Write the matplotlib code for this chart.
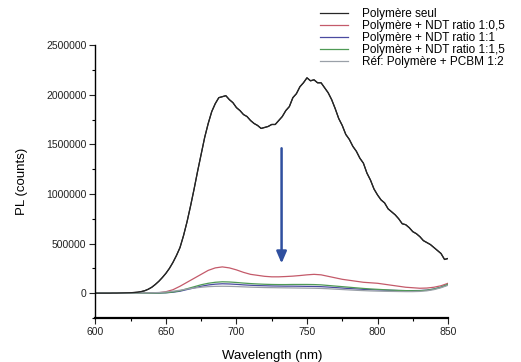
import matplotlib
matplotlib.use("Agg")
import matplotlib.pyplot as plt
from matplotlib.ticker import MultipleLocator

plt.rcParams['font.family'] = ['Liberation Sans', 'DejaVu Sans']

# Wavelength grids (nm)
wavelength_fine = [600 + 2.5 * i for i in range(101)]
wavelength = list(range(600, 851, 5))

# PL intensity in millions of counts
pl_polymere_seul = [
    0.0, 0.0, 0.0, 0.0, 0.0, 0.001, 0.001, 0.002, 0.003, 0.004,
    0.005, 0.007, 0.01, 0.016, 0.025, 0.04, 0.06, 0.088, 0.12, 0.158,
    0.20, 0.25, 0.31, 0.38, 0.46, 0.58, 0.72, 0.88, 1.05, 1.23,
    1.40, 1.57, 1.71, 1.83, 1.91, 1.97, 1.98, 1.99, 1.95, 1.92,
    1.87, 1.84, 1.80, 1.78, 1.74, 1.71, 1.69, 1.66, 1.67, 1.68,
    1.70, 1.70, 1.74, 1.78, 1.84, 1.88, 1.97, 2.01, 2.08, 2.12,
    2.17, 2.14, 2.15, 2.12, 2.12, 2.07, 2.02, 1.95, 1.86, 1.76,
    1.69, 1.60, 1.55, 1.48, 1.43, 1.36, 1.31, 1.21, 1.14, 1.05,
    0.99, 0.94, 0.91, 0.85, 0.82, 0.79, 0.75, 0.70, 0.69, 0.66,
    0.62, 0.60, 0.57, 0.53, 0.51, 0.49, 0.46, 0.43, 0.40, 0.34,
    0.35,
]
pl_ndt_05 = [
    0.0, 0.0, 0.0, 0.0, 0.0, 0.0, 0.0, 0.001, 0.002, 0.005,
    0.015, 0.035, 0.07, 0.11, 0.15, 0.19, 0.23, 0.255, 0.265, 0.255,
    0.235, 0.21, 0.19, 0.18, 0.17, 0.165, 0.165, 0.168, 0.172, 0.178,
    0.185, 0.19, 0.185, 0.17, 0.155, 0.14, 0.13, 0.12, 0.11, 0.105,
    0.10, 0.09, 0.08, 0.07, 0.06, 0.055, 0.05, 0.052, 0.06, 0.075,
    0.10,
]
pl_ndt_1 = [
    0.0, 0.0, 0.0, 0.0, 0.0, 0.0, 0.0, 0.0, 0.001, 0.002,
    0.004, 0.01, 0.02, 0.037, 0.053, 0.07, 0.083, 0.091, 0.095, 0.093,
    0.089, 0.084, 0.08, 0.077, 0.075, 0.073, 0.072, 0.071, 0.071, 0.07,
    0.069, 0.068, 0.066, 0.062, 0.057, 0.052, 0.047, 0.043, 0.039, 0.036,
    0.033, 0.031, 0.029, 0.027, 0.026, 0.026, 0.027, 0.031, 0.042, 0.06,
    0.085,
]
pl_ndt_15 = [
    0.0, 0.0, 0.0, 0.0, 0.0, 0.0, 0.0, 0.0, 0.001, 0.002,
    0.005, 0.012, 0.025, 0.045, 0.065, 0.085, 0.10, 0.11, 0.115, 0.113,
    0.108, 0.102, 0.097, 0.093, 0.09, 0.088, 0.087, 0.087, 0.088, 0.088,
    0.088, 0.087, 0.084, 0.078, 0.072, 0.066, 0.06, 0.054, 0.048, 0.043,
    0.039, 0.035, 0.031, 0.028, 0.026, 0.025, 0.025, 0.03, 0.042, 0.06,
    0.09,
]
pl_pcbm = [
    0.0, 0.0, 0.0, 0.0, 0.0, 0.0, 0.001, 0.002, 0.004, 0.007,
    0.012, 0.02, 0.03, 0.042, 0.052, 0.06, 0.066, 0.069, 0.07, 0.069,
    0.067, 0.064, 0.061, 0.059, 0.057, 0.056, 0.055, 0.054, 0.053, 0.052,
    0.051, 0.05, 0.048, 0.045, 0.041, 0.037, 0.033, 0.029, 0.026, 0.023,
    0.021, 0.019, 0.018, 0.017, 0.016, 0.016, 0.018, 0.024, 0.036, 0.055,
    0.08,
]

series_labels = [
    "Polymère seul",
    "Polymère + NDT ratio 1:0,5",
    "Polymère + NDT ratio 1:1",
    "Polymère + NDT ratio 1:1,5",
    "Réf: Polymère + PCBM 1:2",
]
series_colors = ["#262626", "#c45a6a", "#4a4aa0", "#4f9a55", "#9aa0a8"]
series_x = [wavelength_fine, wavelength, wavelength, wavelength, wavelength]
series_values = [pl_polymere_seul, pl_ndt_05, pl_ndt_1, pl_ndt_15, pl_pcbm]

# Quenching arrow (wavelength, start/end counts in millions)
arrow_wl = 732
arrow_from = 1.46
arrow_to = 0.30

fig = plt.figure(figsize=(5.21, 3.62), dpi=100)
ax = fig.add_axes([0.183, 0.1215, 0.677, 0.754])

lines = []
for xs, vals, lab, col in zip(series_x, series_values, series_labels, series_colors):
    ln, = ax.plot(xs, [v * 1e6 for v in vals], color=col, lw=0.9, label=lab)
    lines.append(ln)
# redraw the reference curve on top
ax.plot(wavelength_fine, [v * 1e6 for v in pl_polymere_seul], color=series_colors[0], lw=0.9)

ax.annotate("", xy=(arrow_wl, arrow_to * 1e6), xytext=(arrow_wl, arrow_from * 1e6),
            arrowprops=dict(arrowstyle="-|>,head_width=0.3,head_length=0.7",
                            color="#2f4f9f", lw=1.8, shrinkA=0, shrinkB=0))

ax.set_xlim(600, 850)
ax.set_ylim(-250000, 2500000)
ax.xaxis.set_major_locator(MultipleLocator(50))
ax.xaxis.set_minor_locator(MultipleLocator(25))
ax.yaxis.set_major_locator(MultipleLocator(500000))
ax.yaxis.set_minor_locator(MultipleLocator(250000))
ax.ticklabel_format(axis="y", style="plain", useOffset=False)

for side in ("top", "right"):
    ax.spines[side].set_visible(False)
ax.spines["left"].set_linewidth(1.0)
ax.spines["bottom"].set_linewidth(1.6)
ax.tick_params(which="major", direction="out", length=4, width=0.8, labelsize=7.5,
               colors="#222222", pad=2.5)
ax.tick_params(which="minor", direction="out", length=2.5, width=0.8)

ax.set_xlabel("Wavelength (nm)", fontsize=9.5)
ax.set_ylabel("PL (counts)", fontsize=9.5)
ax.xaxis.set_label_coords(0.5, -0.116)
ax.yaxis.set_label_coords(-0.19, 0.5)

fig.legend(handles=lines, labels=series_labels, loc="upper left",
           bbox_to_anchor=(0.598, 1.0), frameon=False, fontsize=8.5,
           handlelength=2.4, handletextpad=1.2, labelspacing=0.0, borderaxespad=0.3)

fig.savefig("out.png", dpi=100)
